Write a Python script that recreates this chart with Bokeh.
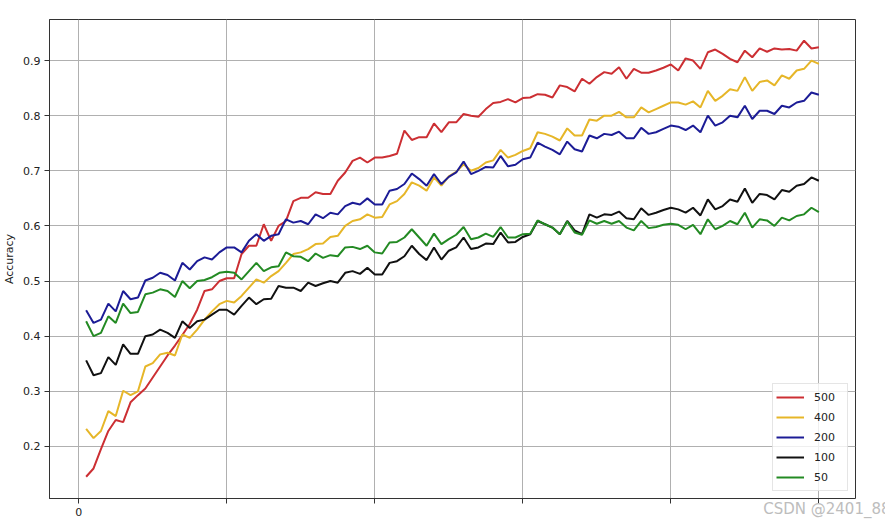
from bokeh.plotting import figure
from bokeh.models import Legend, LegendItem, FixedTicker, Range1d
from bokeh.embed import file_html
from bokeh.resources import INLINE

# ---- data ----
epochs = list(range(1, 101))

acc_500 = [0.145, 0.160, 0.195, 0.228, 0.248, 0.244, 0.280, 0.293, 0.305, 0.325,
           0.345, 0.365, 0.383, 0.402, 0.422, 0.448, 0.482, 0.485, 0.500, 0.505,
           0.505, 0.549, 0.564, 0.564, 0.603, 0.573, 0.600, 0.609, 0.645, 0.651,
           0.651, 0.661, 0.658, 0.658, 0.682, 0.697, 0.718, 0.724, 0.715, 0.724,
           0.724, 0.727, 0.731, 0.773, 0.756, 0.761, 0.761, 0.786, 0.770, 0.788,
           0.788, 0.803, 0.800, 0.798, 0.812, 0.823, 0.825, 0.830, 0.824, 0.832,
           0.833, 0.839, 0.838, 0.833, 0.855, 0.852, 0.844, 0.867, 0.858, 0.870,
           0.879, 0.876, 0.888, 0.867, 0.885, 0.878, 0.878, 0.882, 0.887, 0.893,
           0.882, 0.904, 0.900, 0.885, 0.915, 0.920, 0.912, 0.903, 0.897, 0.918,
           0.906, 0.922, 0.916, 0.922, 0.920, 0.921, 0.918, 0.936, 0.922, 0.924]

acc_400 = [0.232, 0.215, 0.228, 0.264, 0.255, 0.301, 0.293, 0.300, 0.345, 0.351,
           0.367, 0.370, 0.365, 0.403, 0.397, 0.412, 0.430, 0.445, 0.458, 0.464,
           0.461, 0.473, 0.488, 0.503, 0.497, 0.509, 0.518, 0.533, 0.549, 0.552,
           0.558, 0.567, 0.568, 0.580, 0.582, 0.600, 0.609, 0.612, 0.621, 0.615,
           0.616, 0.639, 0.645, 0.658, 0.679, 0.673, 0.664, 0.688, 0.673, 0.690,
           0.698, 0.712, 0.700, 0.705, 0.715, 0.719, 0.738, 0.724, 0.729, 0.736,
           0.741, 0.770, 0.767, 0.762, 0.755, 0.777, 0.764, 0.764, 0.793, 0.791,
           0.800, 0.800, 0.807, 0.797, 0.797, 0.815, 0.806, 0.812, 0.818, 0.824,
           0.824, 0.820, 0.826, 0.815, 0.845, 0.827, 0.836, 0.848, 0.845, 0.870,
           0.845, 0.861, 0.864, 0.855, 0.873, 0.867, 0.882, 0.885, 0.900, 0.894]

acc_200 = [0.447, 0.424, 0.430, 0.459, 0.445, 0.482, 0.467, 0.470, 0.501, 0.506,
           0.515, 0.511, 0.501, 0.533, 0.521, 0.536, 0.543, 0.539, 0.552, 0.561,
           0.561, 0.552, 0.573, 0.585, 0.573, 0.582, 0.585, 0.612, 0.606, 0.609,
           0.603, 0.621, 0.614, 0.624, 0.621, 0.636, 0.642, 0.639, 0.650, 0.639,
           0.639, 0.664, 0.667, 0.676, 0.695, 0.685, 0.673, 0.694, 0.676, 0.689,
           0.697, 0.717, 0.694, 0.700, 0.707, 0.706, 0.727, 0.708, 0.711, 0.721,
           0.724, 0.751, 0.744, 0.738, 0.730, 0.753, 0.739, 0.735, 0.764, 0.759,
           0.767, 0.765, 0.771, 0.759, 0.759, 0.778, 0.767, 0.770, 0.776, 0.782,
           0.780, 0.774, 0.782, 0.770, 0.800, 0.782, 0.788, 0.800, 0.797, 0.818,
           0.794, 0.809, 0.809, 0.803, 0.818, 0.815, 0.824, 0.827, 0.842, 0.838]

acc_100 = [0.356, 0.329, 0.333, 0.362, 0.348, 0.385, 0.368, 0.368, 0.400, 0.403,
           0.412, 0.406, 0.397, 0.427, 0.415, 0.427, 0.430, 0.439, 0.448, 0.448,
           0.439, 0.455, 0.470, 0.458, 0.467, 0.468, 0.491, 0.488, 0.488, 0.482,
           0.497, 0.491, 0.496, 0.500, 0.497, 0.515, 0.518, 0.513, 0.524, 0.512,
           0.512, 0.533, 0.536, 0.545, 0.564, 0.549, 0.538, 0.561, 0.539, 0.555,
           0.561, 0.579, 0.558, 0.561, 0.568, 0.567, 0.588, 0.570, 0.571, 0.580,
           0.585, 0.609, 0.603, 0.597, 0.585, 0.609, 0.592, 0.585, 0.621, 0.615,
           0.621, 0.620, 0.626, 0.614, 0.612, 0.632, 0.620, 0.624, 0.629, 0.633,
           0.630, 0.624, 0.633, 0.619, 0.648, 0.630, 0.636, 0.648, 0.644, 0.668,
           0.642, 0.658, 0.656, 0.648, 0.665, 0.662, 0.673, 0.676, 0.688, 0.682]

acc_50 = [0.427, 0.400, 0.406, 0.436, 0.424, 0.459, 0.442, 0.444, 0.476, 0.479,
          0.485, 0.482, 0.471, 0.500, 0.487, 0.500, 0.502, 0.507, 0.515, 0.517,
          0.515, 0.503, 0.518, 0.533, 0.518, 0.525, 0.527, 0.552, 0.545, 0.544,
          0.536, 0.550, 0.542, 0.547, 0.545, 0.561, 0.562, 0.558, 0.564, 0.552,
          0.550, 0.570, 0.571, 0.579, 0.594, 0.579, 0.564, 0.586, 0.567, 0.576,
          0.584, 0.598, 0.576, 0.579, 0.586, 0.580, 0.598, 0.579, 0.579, 0.585,
          0.586, 0.610, 0.603, 0.597, 0.585, 0.608, 0.588, 0.584, 0.610, 0.604,
          0.609, 0.604, 0.609, 0.597, 0.592, 0.609, 0.596, 0.598, 0.602, 0.604,
          0.602, 0.594, 0.602, 0.585, 0.612, 0.594, 0.600, 0.609, 0.603, 0.624,
          0.597, 0.612, 0.610, 0.600, 0.615, 0.610, 0.618, 0.621, 0.633, 0.625]

series_labels = ["500", "400", "200", "100", "50"]
series_values = [acc_500, acc_400, acc_200, acc_100, acc_50]
series_colors = ["#cc2f33", "#e6b628", "#1c1c96", "#111111", "#238a23"]

x_ticks = [0, 20, 40, 60, 80, 100]
x_tick_labels = ["0", "", "", "", "", ""]
y_ticks = [0.2, 0.3, 0.4, 0.5, 0.6, 0.7, 0.8, 0.9]
y_tick_labels = ["0.2", "0.3", "0.4", "0.5", "0.6", "0.7", "0.8", "0.9"]

watermark_text = "CSDN @2401_88237740"

FONT = "DejaVu Sans"

p = figure(frame_width=806, frame_height=479,
           x_range=Range1d(-3.95, 104.95), y_range=Range1d(0.1055, 0.9745),
           output_backend="svg", toolbar_location=None,
           min_border_left=43, min_border_right=30, min_border_top=19,
           min_border_bottom=0)

p.background_fill_color = "white"
p.border_fill_color = "white"
p.outline_line_color = "#333333"
p.outline_line_alpha = 1.0
p.outline_line_width = 1

p.xaxis.ticker = FixedTicker(ticks=x_ticks)
p.xaxis.major_label_overrides = dict(zip(x_ticks, x_tick_labels))
p.yaxis.ticker = FixedTicker(ticks=y_ticks)
p.yaxis.major_label_overrides = dict(zip(y_ticks, y_tick_labels))

for ax in (p.xaxis[0], p.yaxis[0]):
    ax.axis_line_color = "#333333"
    ax.major_tick_line_color = "#333333"
    ax.major_tick_in = 0
    ax.major_tick_out = 5
    ax.minor_tick_line_color = None
    ax.major_label_text_font = FONT
    ax.major_label_text_font_size = "11px"
    ax.major_label_text_color = "#222222"
    ax.major_label_standoff = 4

p.yaxis.axis_label = "Accuracy"
p.yaxis.axis_label_text_font = FONT
p.yaxis.axis_label_text_font_size = "11px"
p.yaxis.axis_label_text_font_style = "normal"
p.yaxis.axis_label_text_color = "#222222"
p.yaxis.axis_label_standoff = 4

# source watermark, drawn as the x-axis label under the frame's lower right corner
xax = p.xaxis[0]
xax.bounds = (-3.95, 95.7)
xax.axis_label = watermark_text
xax.axis_label_text_font = FONT
xax.axis_label_text_font_size = "15px"
xax.axis_label_text_font_style = "normal"
xax.axis_label_text_color = "#bdbdbd"
xax.axis_label_standoff = -19
xax.axis_label_align = "end"

p.xgrid.grid_line_color = "#b0b0b0"
p.ygrid.grid_line_color = "#b0b0b0"
p.xgrid.grid_line_width = 1
p.ygrid.grid_line_width = 1

items = []
for lab, vals, col in zip(series_labels, series_values, series_colors):
    r = p.line(epochs, vals, line_color=col, line_width=2)
    items.append(LegendItem(label=lab, renderers=[r]))

legend = Legend(items=items, location="bottom_right")
legend.margin = 7
legend.padding = 3
legend.spacing = 0
legend.label_height = 20
legend.glyph_height = 20
legend.glyph_width = 28
legend.label_standoff = 10
legend.label_width = 30
legend.label_text_font = FONT
legend.label_text_font_size = "11px"
legend.label_text_color = "#222222"
legend.border_line_color = "#cccccc"
legend.border_line_width = 1
legend.background_fill_color = "white"
legend.background_fill_alpha = 0.8
p.add_layout(legend)

with open("out.html", "w") as f:
    f.write(file_html(p, INLINE))
